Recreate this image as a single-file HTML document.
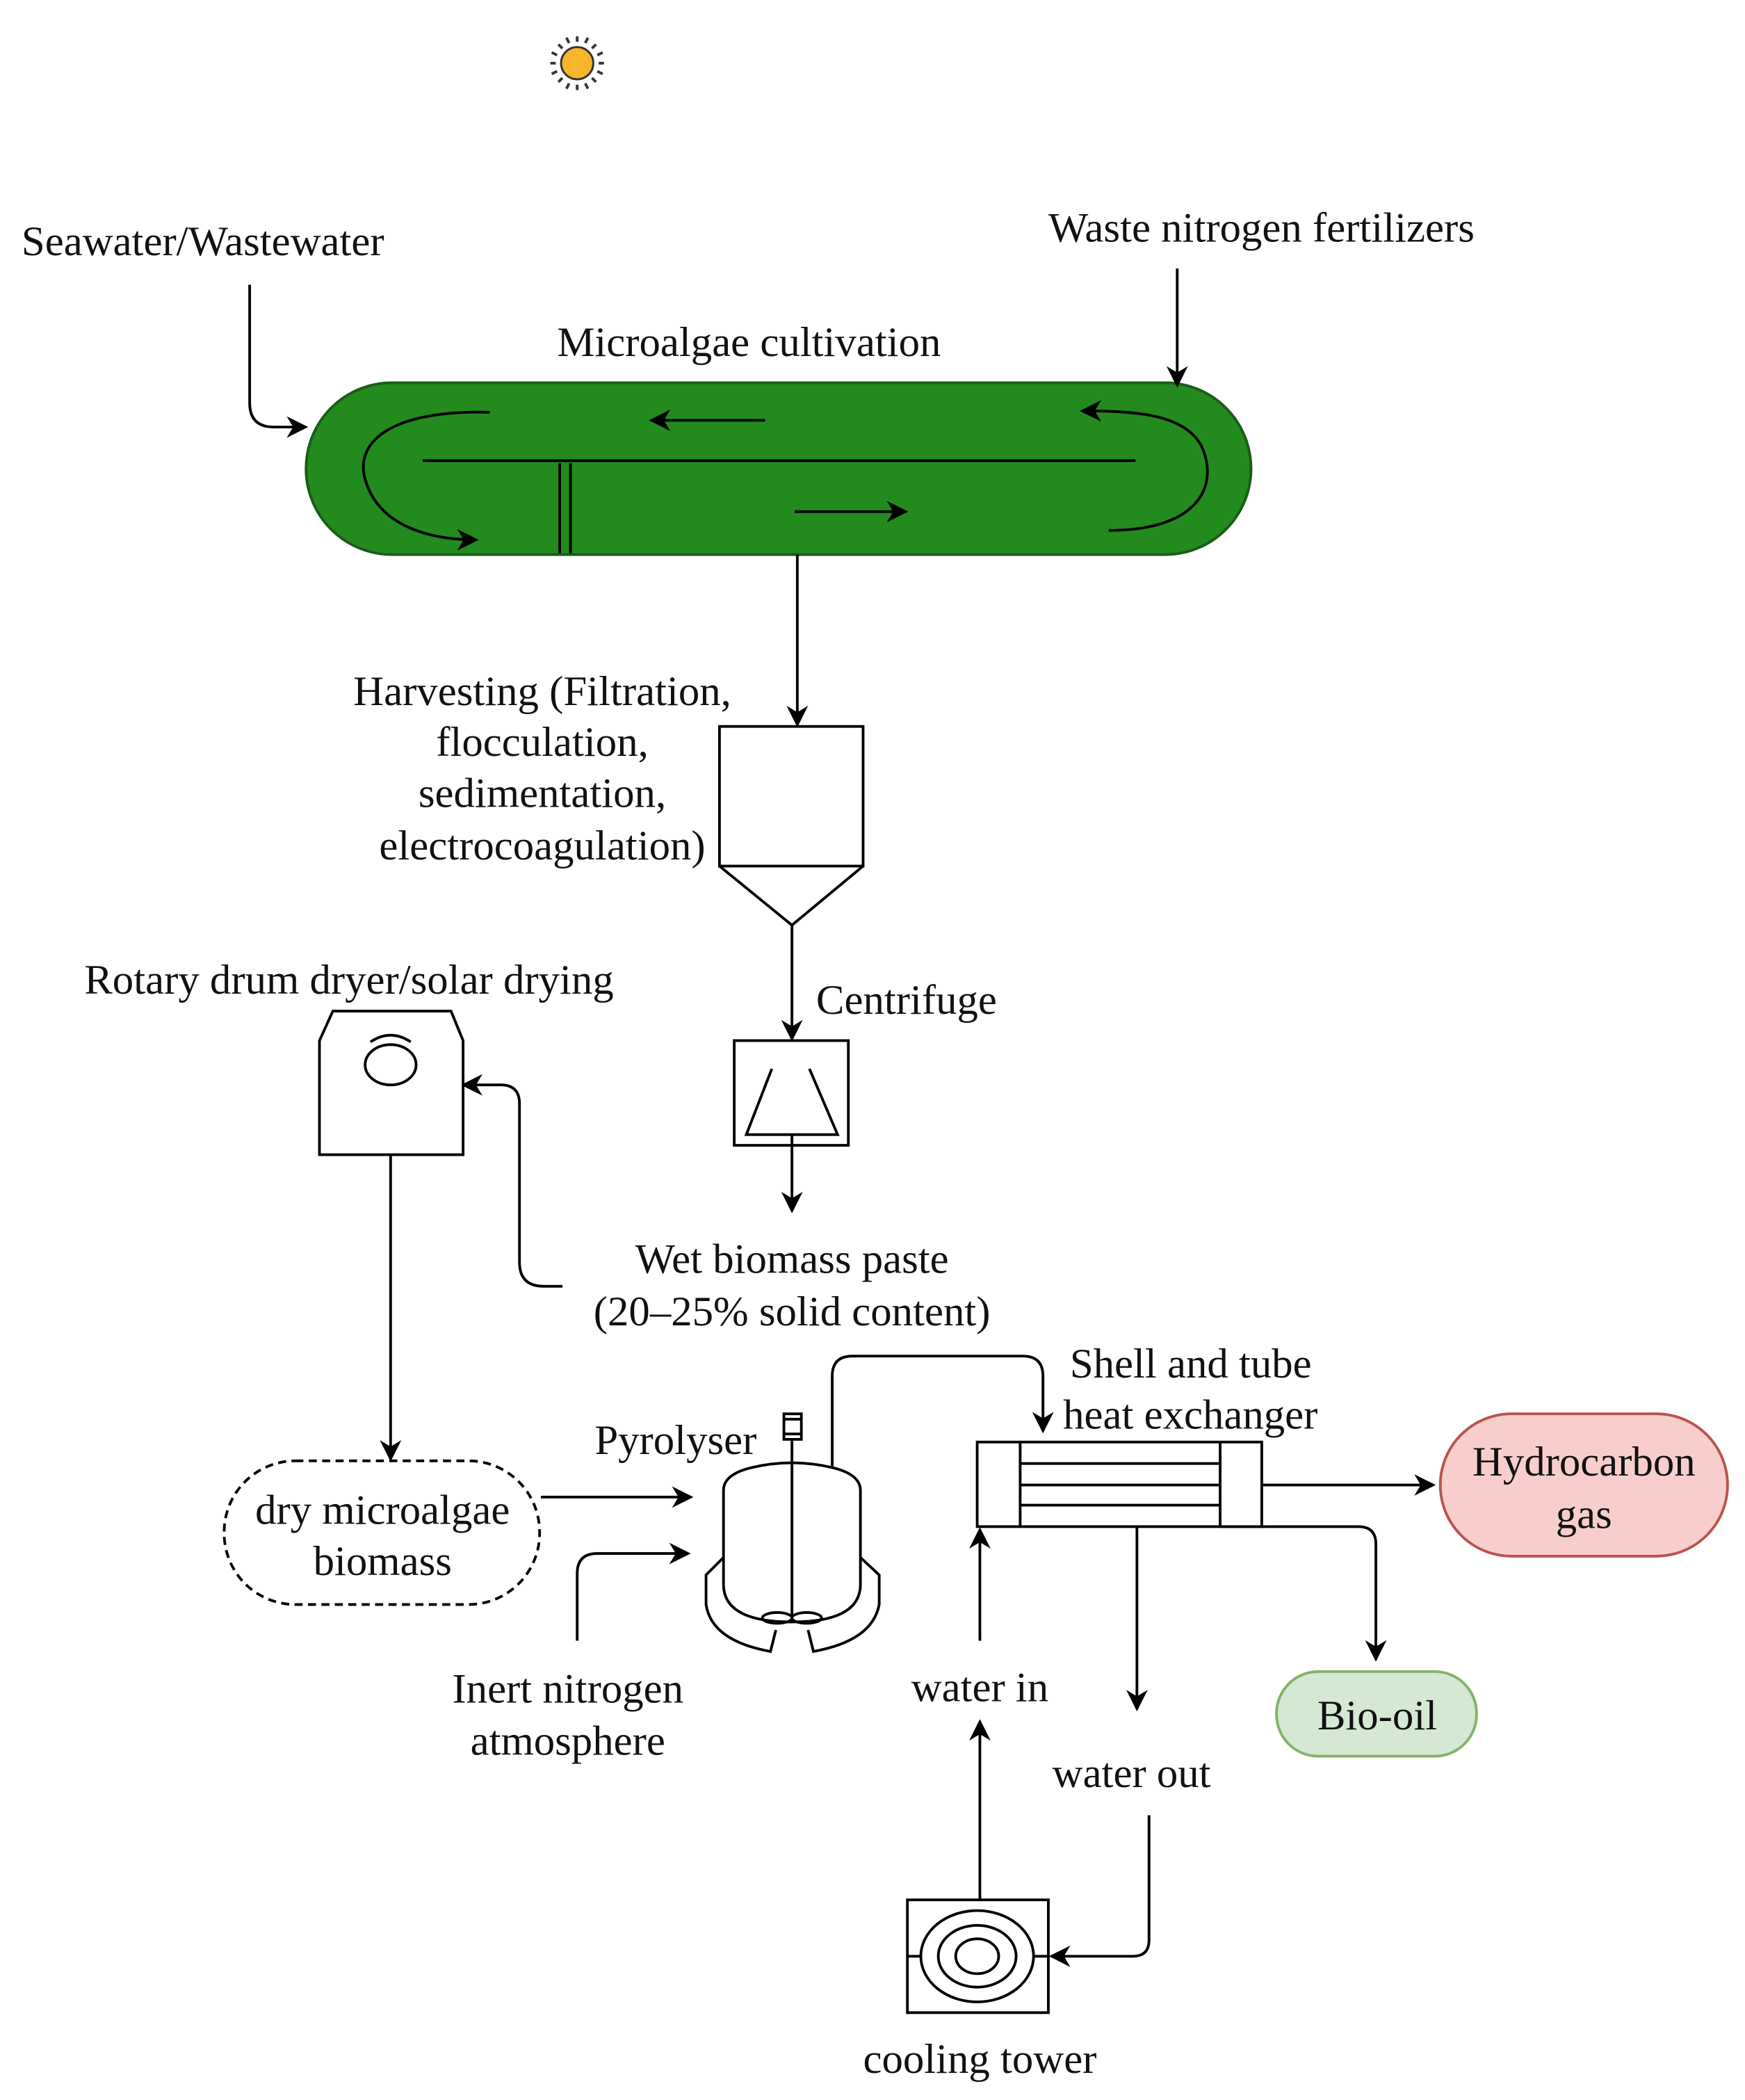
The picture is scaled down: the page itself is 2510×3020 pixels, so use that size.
<!DOCTYPE html>
<html><head><meta charset="utf-8"><style>
html,body{margin:0;padding:0;background:#fff}
svg{display:block}
text{font-family:"Liberation Serif",serif;font-size:31.5px;fill:#111}
</style></head><body>
<svg width="2510" height="3020" viewBox="0 0 1300 1564" xmlns="http://www.w3.org/2000/svg">
<defs>
<marker id="b" viewBox="0 0 10 10" refX="9" refY="5" markerWidth="16" markerHeight="16" markerUnits="userSpaceOnUse" orient="auto"><path d="M0,0 L10,5 L0,10 L3,5 z" fill="#000"/></marker>
</defs>
<g fill="none" stroke="#000" stroke-width="2">
<!-- sun -->
<circle cx="430" cy="47" r="12" fill="#f7b52b" stroke="#333" stroke-width="1.5"/>
<g stroke="#333" stroke-width="2">
<line x1="430" y1="27" x2="430" y2="31"/><line x1="430" y1="63" x2="430" y2="67"/>
<line x1="410" y1="47" x2="414" y2="47"/><line x1="446" y1="47" x2="450" y2="47"/>
<line x1="416" y1="33" x2="419" y2="36"/><line x1="441" y1="58" x2="444" y2="61"/>
<line x1="444" y1="33" x2="441" y2="36"/><line x1="419" y1="58" x2="416" y2="61"/>
<line x1="422" y1="28" x2="424" y2="32"/><line x1="436" y1="62" x2="438" y2="66"/>
<line x1="438" y1="28" x2="436" y2="32"/><line x1="424" y1="62" x2="422" y2="66"/>
<line x1="411" y1="39" x2="415" y2="41"/><line x1="445" y1="53" x2="449" y2="55"/>
<line x1="449" y1="39" x2="445" y2="41"/><line x1="415" y1="53" x2="411" y2="55"/>
</g>
<!-- raceway -->
<rect x="228" y="285" width="704" height="128" rx="64" fill="#238a1e" stroke="#1a5c18"/>
<line x1="315" y1="343" x2="846" y2="343"/>
<line x1="417" y1="345" x2="417" y2="412"/><line x1="425" y1="345" x2="425" y2="412"/>
<line x1="570" y1="313" x2="485" y2="313" marker-end="url(#b)"/>
<line x1="592" y1="381" x2="675" y2="381" marker-end="url(#b)"/>
<path d="M365 307 C290 305 262 330 273 360 C284 392 320 402 355 402" marker-end="url(#b)"/>
<path d="M826 395 C895 395 908 360 895 332 C882 308 845 306 806 306" marker-end="url(#b)"/>
<!-- inputs -->
<path d="M186 212 V300 Q186 318 204 318 H228" marker-end="url(#b)"/>
<line x1="877" y1="200" x2="877" y2="287" marker-end="url(#b)"/>
<line x1="594" y1="413" x2="594" y2="540" marker-end="url(#b)"/>
<!-- hopper -->
<rect x="536" y="541" width="107" height="104" fill="#fff"/>
<path d="M536 645 L590 689 L643 645"/>
<line x1="590" y1="689" x2="590" y2="774" marker-end="url(#b)"/>
<!-- centrifuge -->
<rect x="547" y="775" width="85" height="78" fill="#fff"/>
<path d="M575 796 L556 845 H624 L603 796"/>
<line x1="590" y1="845" x2="590" y2="902" marker-end="url(#b)"/>
<!-- recycle to dryer -->
<path d="M419 958 H405 Q387 958 387 940 V822 Q387 808 373 808 H345" marker-end="url(#b)"/>
<!-- dryer -->
<path d="M238 860 V775 L248 753 H336 L345 775 V860 Z" fill="#fff"/>
<ellipse cx="291" cy="793" rx="19" ry="15"/>
<path d="M276 776 Q291 766 306 776"/>
<line x1="291" y1="860" x2="291" y2="1087" marker-end="url(#b)"/>
<!-- dry biomass -->
<rect x="167" y="1088" width="235" height="107" rx="53" stroke-dasharray="6 4"/>
<line x1="403" y1="1115" x2="515" y2="1115" marker-end="url(#b)"/>
<path d="M430 1222 V1172 Q430 1157 445 1157 H513" marker-end="url(#b)"/>
<!-- pyrolyser -->
<path d="M539 1180 V1110 Q539 1098 560 1093 Q590 1086 620 1093 Q641 1098 641 1110 V1180 Q641 1208 590 1208 Q539 1208 539 1180 Z" fill="#fff"/>
<path d="M539 1160 L526 1173 V1195 Q530 1222 574 1230 L578 1214"/>
<path d="M641 1160 L655 1173 V1195 Q650 1222 606 1230 L602 1214"/>
<line x1="590" y1="1072" x2="590" y2="1205"/>
<rect x="584" y="1053" width="13" height="19" fill="#fff"/>
<line x1="584" y1="1057" x2="597" y2="1057"/><line x1="584" y1="1068" x2="597" y2="1068"/>
<ellipse cx="579" cy="1205" rx="11" ry="4"/><ellipse cx="601" cy="1205" rx="11" ry="4"/>
<path d="M620 1092 V1025 Q620 1010 635 1010 H762 Q777 1010 777 1025 V1066" marker-end="url(#b)"/>
<!-- heat exchanger -->
<rect x="728" y="1074" width="212" height="63" fill="#fff"/>
<line x1="760" y1="1074" x2="760" y2="1137"/><line x1="909" y1="1074" x2="909" y2="1137"/>
<line x1="760" y1="1090" x2="909" y2="1090"/><line x1="760" y1="1106" x2="909" y2="1106"/><line x1="760" y1="1121" x2="909" y2="1121"/>
<line x1="940" y1="1106" x2="1068" y2="1106" marker-end="url(#b)"/>
<path d="M909 1137 H1012 Q1025 1137 1025 1150 V1236" marker-end="url(#b)"/>
<line x1="847" y1="1137" x2="847" y2="1273" marker-end="url(#b)"/>
<line x1="730" y1="1222" x2="730" y2="1139" marker-end="url(#b)"/>
<!-- product nodes -->
<rect x="1073" y="1053" width="214" height="106" rx="53" fill="#f8cecc" stroke="#b85450"/>
<rect x="951" y="1245" width="149" height="63" rx="31" fill="#d5e8d4" stroke="#82b366"/>
<!-- cooling tower -->
<rect x="676" y="1415" width="105" height="84" fill="#fff"/>
<ellipse cx="728" cy="1457" rx="42" ry="34"/>
<ellipse cx="728" cy="1457" rx="29" ry="23"/>
<ellipse cx="728" cy="1457" rx="16" ry="13"/>
<line x1="676" y1="1457" x2="686" y2="1457"/><line x1="770" y1="1457" x2="781" y2="1457"/>
<line x1="730" y1="1415" x2="730" y2="1282" marker-end="url(#b)"/>
<path d="M856 1352 V1445 Q856 1457 844 1457 H783" marker-end="url(#b)"/>
</g>
<g>
<text x="16" y="190">Seawater/Wastewater</text>
<text x="781" y="180">Waste nitrogen fertilizers</text>
<text x="558" y="265" text-anchor="middle">Microalgae cultivation</text>
<text x="404" y="525" text-anchor="middle">Harvesting (Filtration,</text>
<text x="404" y="563" text-anchor="middle">flocculation,</text>
<text x="404" y="601" text-anchor="middle">sedimentation,</text>
<text x="404" y="640" text-anchor="middle">electrocoagulation)</text>
<text x="608" y="755">Centrifuge</text>
<text x="260" y="740" text-anchor="middle">Rotary drum dryer/solar drying</text>
<text x="590" y="948" text-anchor="middle">Wet biomass paste</text>
<text x="590" y="987" text-anchor="middle">(20–25% solid content)</text>
<text x="285" y="1135" text-anchor="middle">dry microalgae</text>
<text x="285" y="1173" text-anchor="middle">biomass</text>
<text x="443" y="1083">Pyrolyser</text>
<text x="423" y="1268" text-anchor="middle">Inert nitrogen</text>
<text x="423" y="1307" text-anchor="middle">atmosphere</text>
<text x="797" y="1026">Shell and tube</text>
<text x="792" y="1064">heat exchanger</text>
<text x="1180" y="1099" text-anchor="middle">Hydrocarbon</text>
<text x="1180" y="1138" text-anchor="middle">gas</text>
<text x="1026" y="1288" text-anchor="middle">Bio-oil</text>
<text x="730" y="1267" text-anchor="middle">water in</text>
<text x="843" y="1331" text-anchor="middle">water out</text>
<text x="730" y="1544" text-anchor="middle">cooling tower</text>
</g>
</svg>
</body></html>
